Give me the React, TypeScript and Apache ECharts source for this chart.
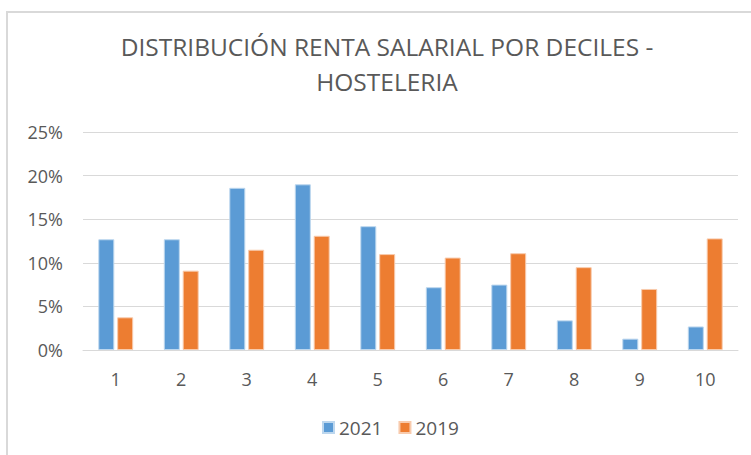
import React, { useEffect, useRef } from "react";
import * as echarts from "echarts";

const categories = ["1", "2", "3", "4", "5", "6", "7", "8", "9", "10"];
const series2021 = [12.7, 12.7, 18.6, 19.0, 14.2, 7.2, 7.5, 3.4, 1.3, 2.7];
const series2019 = [3.75, 9.1, 11.5, 13.1, 11.0, 10.6, 11.1, 9.5, 7.0, 12.8];
const yTicks = { min: 0, max: 25, interval: 5 };

const FONT = "'Open Sans', 'Noto Sans', sans-serif";
const TXT = "#595959";

export default function App() {
  const ref = useRef<HTMLDivElement>(null);
  useEffect(() => {
    if (!ref.current) return;
    const chart = echarts.init(ref.current, null, { renderer: "svg" });
    chart.setOption({
      animation: false,
      backgroundColor: "#ffffff",
      graphic: [
        {
          type: "rect",
          shape: { x: 7, y: 12, width: 800, height: 500 },
          style: { fill: "none", stroke: "#D9D9D9", lineWidth: 2 },
          silent: true,
        },
      ],
      title: {
        text: "DISTRIBUCIÓN RENTA SALARIAL POR DECILES -\nHOSTELERIA",
        left: 387,
        top: 29,
        padding: 0,
        textAlign: "center",
        textStyle: {
          fontFamily: FONT,
          fontSize: 24.5,
          fontWeight: "normal",
          color: TXT,
          lineHeight: 35,
        },
      },
      legend: {
        left: 322,
        top: 418,
        padding: 0,
        itemWidth: 11,
        itemHeight: 11,
        itemGap: 16,
        icon: "rect",
        textStyle: { fontFamily: FONT, fontSize: 19, color: TXT },
        data: ["2021", "2019"],
      },
      grid: { left: 83, right: 13, top: 132, bottom: 105, containLabel: false },
      xAxis: {
        type: "category",
        data: categories,
        axisLine: { lineStyle: { color: "#D9D9D9", width: 1 } },
        axisTick: { show: false },
        axisLabel: { fontFamily: FONT, fontSize: 18, color: TXT, margin: 20 },
      },
      yAxis: {
        type: "value",
        min: yTicks.min,
        max: yTicks.max,
        interval: yTicks.interval,
        axisLine: { show: false },
        axisTick: { show: false },
        splitLine: { lineStyle: { color: "#D9D9D9", width: 1 } },
        axisLabel: {
          fontFamily: FONT,
          fontSize: 18,
          color: TXT,
          margin: 20,
          formatter: (v: number) => v + "%",
        },
      },
      series: [
        {
          name: "2021",
          type: "bar",
          data: series2021,
          barWidth: 16,
          barGap: "18%",
          itemStyle: { color: "#5B9BD5", borderColor: "#BDD7EE", borderWidth: 1 },
        },
        {
          name: "2019",
          type: "bar",
          data: series2019,
          barWidth: 16,
          itemStyle: { color: "#ED7D31", borderColor: "#F8CBAD", borderWidth: 1 },
        },
      ],
    });
    return () => chart.dispose();
  }, []);
  return (
    <div
      ref={ref}
      style={{ position: "absolute", left: 0, top: 0, width: 751, height: 455 }}
    />
  );
}
